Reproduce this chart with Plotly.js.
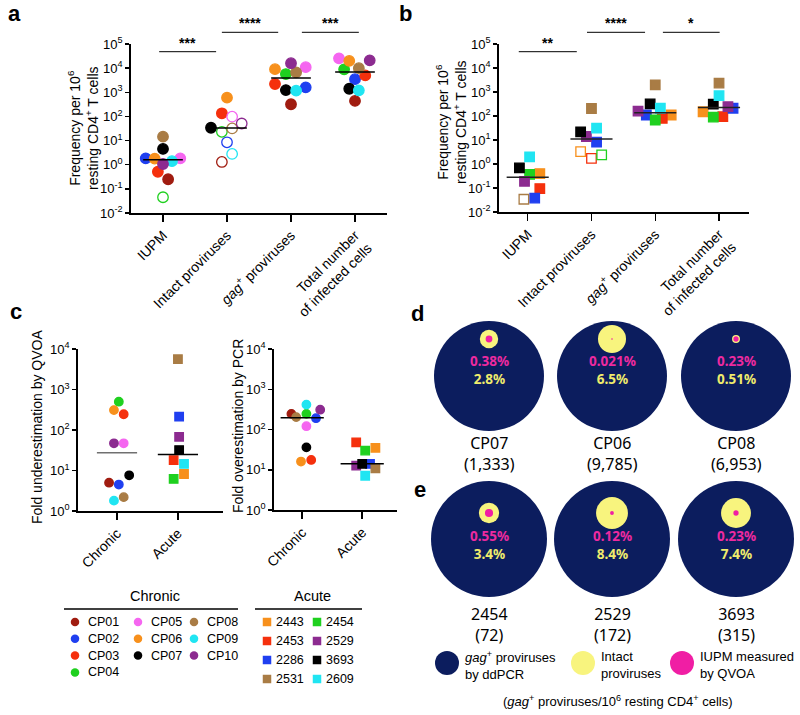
<!DOCTYPE html>
<html><head><meta charset="utf-8">
<script src="https://cdn.plot.ly/plotly-3.0.1.min.js"></script>
<style>html,body{margin:0;padding:0;background:#fff}#chart{width:800px;height:715px}</style>
</head><body><div id="chart"></div>
<script>
// ================= DATA =================
const chronicPatients = ['CP01','CP02','CP03','CP04','CP05','CP06','CP07','CP08','CP09','CP10'];
const acutePatients   = ['2443','2453','2286','2531','2454','2529','3693','2609'];
const abCategories = ['IUPM','Intact proviruses','<i>gag</i><sup>+</sup> proviruses','Total number<br>of infected cells'];
const cCategories  = ['Chronic','Acute'];

// panel a (chronic, per 10^6 resting CD4+ T cells), order = chronicPatients
const aIUPM   = [0.25, 1.84, 0.51, 0.045, 1.84, 1.8, 4.5, 14.5, 1.4, 1.07];
const aIntact = [1.3, 8.5, 135, 23, 98, 600, 34, 32, 2.8, 51];
const aGag    = [320, 1600, 2200, 5700, 11000, 9100, 1230, 6700, 1170, 16000];
const aTotal  = [440, 3500, 5000, 8900, 25500, 20000, 1400, 10000, 1200, 21000];
const aIUPMOpen   = [0,0,0,1,0,0,0,0,0,0];
const aIntactOpen = [1,1,0,1,1,0,0,1,1,1];

// panel b (acute), order = acutePatients
const bIUPM   = [0.40, 0.095, 0.038, 0.034, 0.37, 0.19, 0.69, 2.0];
const bIntact = [3.3, 1.7, 8.1, 205, 2.4, 14, 22, 31];
const bGag    = [110, 80, 110, 2000, 68, 160, 320, 210];
const bTotal  = [150, 94, 210, 2350, 90, 245, 310, 700];
const bIUPMOpen   = [0,0,0,1,0,0,0,0];
const bIntactOpen = [1,1,0,0,1,0,0,0];

// panel c
const cQVOAChronic = [5.0, 4.5, 245, 500, 47, 310, 7.6, 2.2, 1.8, 47];
const cQVOAAcute   = [8.2, 18, 213, 5600, 6.2, 68, 32, 14.5];
const cPCRChronic  = [245, 191, 17.5, 245, 121, 16, 36, 203, 415, 310];
const cPCRAcute    = [35, 48, 14, 10.8, 30, 12.6, 14, 7.1];

// significance labels
const aStars = ['***','****','***'];
const bStars = ['**','****','*'];

// panels d / e
const dPatients = ['CP07','CP06','CP08'];
const dGagCounts = [1333, 9785, 6953];
const dIUPMPct   = [0.38, 0.021, 0.23];
const dIntactPct = [2.8, 6.5, 0.51];
const ePatients = ['2454','2529','3693'];
const eGagCounts = [72, 172, 315];
const eIUPMPct   = [0.55, 0.12, 0.23];
const eIntactPct = [3.4, 8.4, 7.4];

// ================= STYLE / LAYOUT =================
const chronicColors = ['#a01c10','#1f3ff0','#f5300d','#1fd01f','#f566f0','#f7901c','#000000','#a97c45','#20e5f2','#8c2b90'];
const acuteColors   = ['#f7901c','#f5300d','#1f3ff0','#a97c45','#1fd01f','#8c2b90','#000000','#20e5f2'];
// horizontal scatter offsets (category units) to reproduce dot arrangement
const aJitter = [
  [0.08,-0.27,-0.08,0,0.27,-0.13,0,0,0.14,0],
  [-0.08,0,-0.08,-0.08,0.08,0,-0.25,0.08,0.08,0.23],
  [0,0.23,-0.25,-0.08,0.23,-0.25,-0.08,0.08,0.08,0],
  [0,0,0.16,-0.17,-0.25,-0.09,-0.09,0.06,0.06,0.23]];
const bJitter = [
  [0.19,0.19,0.11,-0.06,0.03,-0.05,-0.13,0.03],
  [-0.17,0,0.08,0,0.16,-0.08,-0.17,0.08],
  [0.25,0.11,-0.14,0,0,-0.27,-0.08,0.08],
  [-0.25,0.06,0.22,0,-0.09,0.14,-0.09,0]];
const cLJitter = [[-0.13,0.03,0.11,0.03,0.11,-0.05,0.2,0.11,-0.05,-0.05],[0.1,-0.07,0.02,0,-0.07,0.02,0.02,0.1]];
const cRJitter = [[-0.18,0.23,0.15,0.07,0.07,-0.02,0.07,-0.1,0.07,0.3],[0.22,-0.1,0.13,0.22,0.05,-0.1,0,0.05]];

const FONT = 'Liberation Sans, Arial, sans-serif';
const FONT2 = 'Noto Sans, Open Sans, sans-serif';
const NAVY = '#0c1d5e', YEL = '#f8f47e', PINK = '#f01ea4', PINKTXT = '#ee2aa0', YELTXT = '#f0ec6c';
const W = 800, H = 715;
const px = x => x / W, py = y => 1 - y / H;

function median(a){const s=[...a].sort((p,q)=>p-q);const n=s.length;return n%2?s[(n-1)/2]:(s[n/2-1]+s[n/2])/2;}

const traces = [];
function addPanel(xa, ya, groups, size, half){
  groups.forEach((g,i)=>{
    traces.push({type:'scatter', mode:'markers', xaxis:xa, yaxis:ya, cliponaxis:false, hoverinfo:'skip',
      x: g.vals.map((v,k)=> i + g.jit[k]), y: g.vals,
      marker:{size: size, opacity:1, color: g.colors,
        symbol: g.vals.map((v,k)=> (g.open && g.open[k]) ? g.sym+'-open' : g.sym),
        line:{width:1.3, color:g.colors}}});
  });
  groups.forEach((g,i)=>{
    const m = median(g.vals);
    traces.push({type:'scatter', mode:'lines', xaxis:xa, yaxis:ya, cliponaxis:false, hoverinfo:'skip',
      x:[i-half, i+half], y:[m,m], line:{color:g.med||'#000', width:1.5}});
  });
}

addPanel('x','y',[
  {vals:aIUPM, open:aIUPMOpen, jit:aJitter[0], colors:chronicColors, sym:'circle'},
  {vals:aIntact, open:aIntactOpen, jit:aJitter[1], colors:chronicColors, sym:'circle'},
  {vals:aGag, jit:aJitter[2], colors:chronicColors, sym:'circle'},
  {vals:aTotal, jit:aJitter[3], colors:chronicColors, sym:'circle'}], 10.5, 0.31);
addPanel('x2','y2',[
  {vals:bIUPM, open:bIUPMOpen, jit:bJitter[0], colors:acuteColors, sym:'square', med:'#222'},
  {vals:bIntact, open:bIntactOpen, jit:bJitter[1], colors:acuteColors, sym:'square', med:'#222'},
  {vals:bGag, jit:bJitter[2], colors:acuteColors, sym:'square', med:'#222'},
  {vals:bTotal, jit:bJitter[3], colors:acuteColors, sym:'square', med:'#222'}], 9.5, 0.33);
addPanel('x3','y3',[
  {vals:cQVOAChronic, jit:cLJitter[0], colors:chronicColors, sym:'circle', med:'#707070'},
  {vals:cQVOAAcute, jit:cLJitter[1], colors:acuteColors, sym:'square'}], 8.5, 0.33);
addPanel('x4','y4',[
  {vals:cPCRChronic, jit:cRJitter[0], colors:chronicColors, sym:'circle'},
  {vals:cPCRAcute, jit:cRJitter[1], colors:acuteColors, sym:'square'}], 8.5, 0.36);

// ---- legend (pixel overlay subplot x5/y5) ----
const annotations = [];
const shapes = [];
const chronCol = i => i<4?0:(i<7?1:2), chronRow = i => i<4?i:(i<7?i-4:i-7);
const chronColX = [75,138,194];
traces.push({type:'scatter', mode:'markers', xaxis:'x5', yaxis:'y5', hoverinfo:'skip', cliponaxis:false,
  x: chronicPatients.map((p,i)=>chronColX[chronCol(i)]), y: chronicPatients.map((p,i)=>622+chronRow(i)*16.8),
  marker:{size:8.5, opacity:1, color:chronicColors, symbol:'circle'}});
chronicPatients.forEach((p,i)=>annotations.push({xref:'x5',yref:'y5',x:chronColX[chronCol(i)]+11,y:622+chronRow(i)*16.8,
  text:p, showarrow:false, xanchor:'left', yanchor:'middle', font:{size:12.5,family:FONT,color:'#000'}}));
const acColX = [267,317];
traces.push({type:'scatter', mode:'markers', xaxis:'x5', yaxis:'y5', hoverinfo:'skip', cliponaxis:false,
  x: acutePatients.map((p,i)=>acColX[Math.floor(i/4)]), y: acutePatients.map((p,i)=>622+(i%4)*19),
  marker:{size:8.5, opacity:1, color:acuteColors, symbol:'square'}});
acutePatients.forEach((p,i)=>annotations.push({xref:'x5',yref:'y5',x:acColX[Math.floor(i/4)]+7,y:622+(i%4)*19,
  text:p, showarrow:false, xanchor:'left', yanchor:'middle', font:{size:12.5,family:FONT,color:'#000'}}));
annotations.push({xref:'x5',yref:'y5',x:155,y:596,text:'Chronic',showarrow:false,font:{size:14.5,family:FONT,color:'#000'}});
annotations.push({xref:'x5',yref:'y5',x:312,y:596,text:'Acute',showarrow:false,font:{size:14.5,family:FONT,color:'#000'}});
shapes.push({type:'line',xref:'x5',yref:'y5',x0:64,x1:238,y0:609,y1:609,line:{color:'#000',width:1.5}});
shapes.push({type:'line',xref:'x5',yref:'y5',x0:255,x1:362,y0:609,y1:609,line:{color:'#000',width:1.5}});

// ---- circles d / e (areas proportional to percentages of gag+ proviruses) ----
const colX = [489,612,736];
const REF_D = 110;
const rows = [
  {pat:dPatients, cnt:dGagCounts, iupm:dIUPMPct, intact:dIntactPct, D:110, cy:376, yy:339, tc:370, l1:444, l2:463},
  {pat:ePatients, cnt:eGagCounts, iupm:eIUPMPct, intact:eIntactPct, D:116, cy:539, yy:513, tc:545, l1:615, l2:634}];
rows.forEach(r=>{
  traces.push({type:'scatter',mode:'markers',xaxis:'x5',yaxis:'y5',hoverinfo:'skip',cliponaxis:false,
    x:colX, y:r.pat.map(()=>r.cy), marker:{size:r.D,opacity:1,color:NAVY,line:{width:0}}});
  traces.push({type:'scatter',mode:'markers',xaxis:'x5',yaxis:'y5',hoverinfo:'skip',cliponaxis:false,
    x:colX, y:r.pat.map(()=>r.yy), marker:{size:r.intact.map(v=>REF_D*Math.sqrt(v/100)),opacity:1,color:YEL,line:{width:0}}});
  traces.push({type:'scatter',mode:'markers',xaxis:'x5',yaxis:'y5',hoverinfo:'skip',cliponaxis:false,
    x:colX, y:r.pat.map(()=>r.yy), marker:{size:r.iupm.map(v=>REF_D*Math.sqrt(v/100)),opacity:1,color:PINK,line:{width:0}}});
  r.pat.forEach((p,i)=>{
    annotations.push({xref:'x5',yref:'y5',x:colX[i],y:r.tc,showarrow:false,font:{size:13.5,family:FONT2,color:PINKTXT},
      text:'<b><span style="color:'+PINKTXT+'">'+r.iupm[i]+'%</span><br><span style="color:'+YELTXT+'">'+r.intact[i]+'%</span></b>'});
    annotations.push({xref:'x5',yref:'y5',x:colX[i],y:(r.l1+r.l2)/2,showarrow:false,font:{size:16,family:FONT2,color:'#000'},
      text:p+'<br>('+r.cnt[i].toLocaleString('en-US')+')'});
  });
});
// e legend
const legKeys = [
  {x:447, c:NAVY, t:'<i>gag</i><sup>+</sup> proviruses<br>by ddPCR'},
  {x:583, c:YEL, t:'Intact<br>proviruses'},
  {x:682, c:PINK, t:'IUPM measured<br>by QVOA'}];
traces.push({type:'scatter',mode:'markers',xaxis:'x5',yaxis:'y5',hoverinfo:'skip',cliponaxis:false,
  x:legKeys.map(k=>k.x), y:legKeys.map(()=>663), marker:{size:24,opacity:1,color:legKeys.map(k=>k.c)}});
legKeys.forEach(k=>annotations.push({xref:'x5',yref:'y5',x:k.x+16,y:665,text:k.t,showarrow:false,xanchor:'left',yanchor:'middle',align:'left',font:{size:13,family:FONT,color:'#000'}}));
annotations.push({xref:'x5',yref:'y5',x:618,y:701,text:'(<i>gag</i><sup>+</sup> proviruses/10<sup>6</sup> resting CD4<sup>+</sup> cells)',showarrow:false,font:{size:13,family:FONT,color:'#000'}});

// ---- significance bars ----
function sig(xa, spans, ys, stars){
  spans.forEach((s,i)=>{
    shapes.push({type:'line',xref:xa,yref:'paper',x0:s[0],x1:s[1],y0:py(ys[i]),y1:py(ys[i]),line:{color:'#000',width:1}});
    annotations.push({xref:xa,yref:'paper',x:(s[0]+s[1])/2,y:py(ys[i]+1),text:'<b>'+stars[i]+'</b>',showarrow:false,xanchor:'center',yanchor:'bottom',font:{size:14,family:FONT,color:'#000'}});
  });
}
sig('x', [[-0.06,0.83],[0.92,1.8],[2.17,3.06]], [51.7,32.3,32.3], aStars);
sig('x2', [[-0.14,0.77],[0.93,1.84],[2.12,3.01]], [51.7,32.3,32.3], bStars);

// ---- axis titles & panel letters ----
const tfont = {size:14, family:FONT, color:'#000'};
function vtitle(x,y,text){annotations.push({xref:'paper',yref:'paper',x:px(x),y:py(y),xanchor:'center',yanchor:'middle',textangle:-90,showarrow:false,text:text,font:tfont});}
vtitle(83,128,'Frequency per 10<sup>6</sup><br>resting CD4<sup>+</sup> T cells');
vtitle(451,122,'Frequency per 10<sup>6</sup><br>resting CD4<sup>+</sup> T cells');
vtitle(37,427,'Fold underestimation by QVOA');
vtitle(238,426,'Fold overestimation by PCR');
[['a',6,13],['b',397,14],['c',8,312],['d',409,313],['e',412,489]].forEach(l=>annotations.push({xref:'paper',yref:'paper',x:px(l[1]),y:py(l[2]),xanchor:'left',yanchor:'middle',showarrow:false,text:'<b>'+l[0]+'</b>',font:{size:22,family:FONT,color:'#000'}}));

// ---- axes ----
function axBase(){return {showline:true,linecolor:'#000',linewidth:1.8,ticks:'outside',ticklen:5,tickwidth:1.5,tickcolor:'#000',showgrid:false,zeroline:false,fixedrange:true,tickfont:{size:13,family:FONT,color:'#000'}};}
function logAx(lo,hi,dom,anchor){const tv=[],tt=[];for(let e=lo;e<=hi;e++){tv.push(Math.pow(10,e));tt.push('10<sup>'+e+'</sup>');}
  return Object.assign(axBase(),{type:'log',range:[lo,hi],tickvals:tv,ticktext:tt,domain:dom,anchor:anchor,ticklen:4});}
function catAx(cats,range,dom,anchor){return Object.assign(axBase(),{range:range,tickvals:cats.map((c,i)=>i),ticktext:cats,tickangle:-45,domain:dom,anchor:anchor,ticklen:7,tickfont:{size:14,family:FONT,color:'#000'}});}

const layout = {
  width:W, height:H, margin:{l:0,r:0,t:0,b:0}, paper_bgcolor:'#fff', plot_bgcolor:'rgba(0,0,0,0)', showlegend:false,
  font:{family:FONT,color:'#000',size:13},
  xaxis:  catAx(abCategories,[-0.5,3.5],[px(131),px(387)],'y'),
  yaxis:  logAx(-2,5,[py(213),py(44)],'x'),
  xaxis2: catAx(abCategories,[-0.45,3.47],[px(499),px(749)],'y2'),
  yaxis2: logAx(-2,5,[py(212),py(44)],'x2'),
  xaxis3: catAx(cCategories,[-0.64,1.74],[px(78),px(223)],'y3'),
  yaxis3: logAx(0,4,[py(511),py(349)],'x3'),
  xaxis4: catAx(cCategories,[-0.47,1.58],[px(274),px(397)],'y4'),
  yaxis4: logAx(0,4,[py(510),py(349)],'x4'),
  xaxis5: {domain:[0,1],range:[0,W],visible:false,fixedrange:true,anchor:'y5'},
  yaxis5: {domain:[0,1],range:[H,0],visible:false,fixedrange:true,anchor:'x5'},
  shapes: shapes, annotations: annotations
};
Plotly.newPlot('chart', traces, layout, {staticPlot:true, displayModeBar:false});
</script></body></html>
